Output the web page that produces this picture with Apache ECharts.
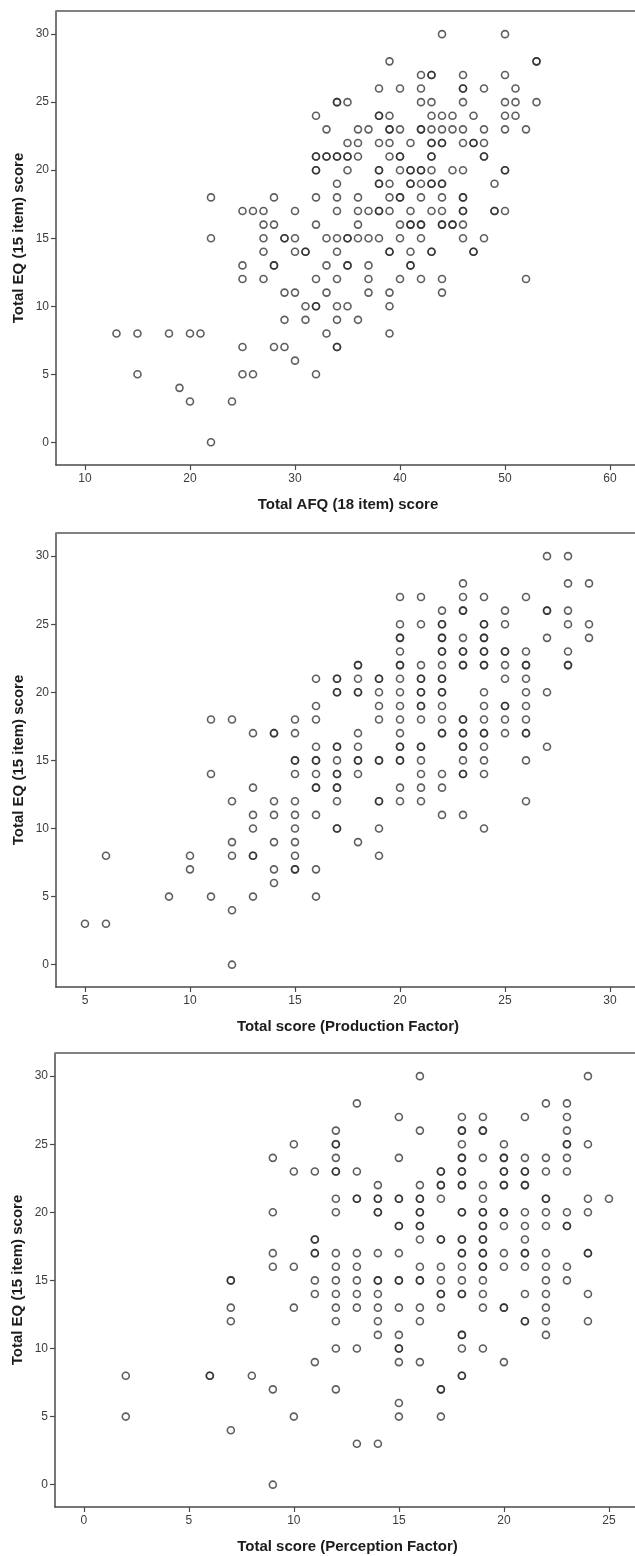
<!DOCTYPE html>
<html><head><meta charset="utf-8">
<style>html,body{margin:0;padding:0;background:#fff}#c{width:635px;height:1556px;filter:blur(0.35px)}</style>
<script src="https://cdn.jsdelivr.net/npm/echarts@6/dist/echarts.min.js"></script>
</head><body><div id="c"></div>
<script>
// Each row: [Total EQ score, [x values at that score]]; a repeated x marks overlapping cases.
const afqRows = [
[30,[44,50]],[28,[39,53,53]],[27,[42,43,43,46,50]],[26,[38,40,42,46,46,48,51]],
[25,[34,34,35,42,43,46,50,51,53]],[24,[32,38,38,39,43,44,45,47,50,51]],
[23,[33,36,37,39,39,40,42,42,43,44,45,46,48,50,52]],[22,[35,36,38,39,41,43,43,44,44,46,47,47,48]],
[21,[32,32,33,33,34,34,35,35,36,39,40,40,43,43,48,48]],[20,[32,32,35,38,38,40,41,41,42,42,43,45,46,50,50]],
[19,[34,38,38,39,41,41,42,43,43,44,44,49]],[18,[22,28,32,34,36,39,40,40,42,44,46,46]],
[17,[25,26,27,30,34,36,37,38,38,39,41,43,44,46,46,49,49,50]],[16,[27,28,32,36,40,41,41,42,42,44,44,45,45,46]],
[15,[22,27,29,29,30,33,34,35,35,36,37,38,40,42,46,48]],[14,[27,30,31,31,34,39,39,41,43,43,47,47]],
[13,[25,28,28,33,35,35,37,41,41]],[12,[25,27,32,34,37,40,42,44,52]],[11,[29,30,33,37,39,44]],
[10,[31,32,32,34,35,39]],[9,[29,31,34,36]],[8,[13,15,18,20,21,33,39]],[7,[25,28,29,34,34]],
[6,[30]],[5,[15,25,26,32]],[4,[19]],[3,[20,24]],[0,[22]]
];
const productionRows = [
[30,[27,28]],[28,[23,28,29]],[27,[20,21,23,24,26]],[26,[22,23,23,25,27,27,28]],
[25,[20,21,22,22,24,24,25,28,29]],[24,[20,20,22,22,23,24,24,27,29]],
[23,[20,22,22,23,23,24,24,25,25,26,28]],[22,[18,18,20,20,21,22,23,23,24,24,25,26,26,28,28]],
[21,[16,17,17,18,19,19,20,21,21,22,22,25,26]],[20,[17,17,18,18,19,20,21,21,22,22,24,26,27]],
[19,[16,19,20,21,21,22,24,25,25,26]],[18,[11,12,15,16,19,20,21,22,23,23,24,25,26]],
[17,[13,14,14,15,18,20,22,22,23,23,24,24,25,26,26]],[16,[16,17,17,18,20,20,21,21,23,23,24,27]],
[15,[15,15,16,16,17,18,18,19,19,20,20,21,23,24,26]],[14,[11,15,16,17,17,18,21,22,23,23,24]],
[13,[13,16,16,17,17,20,21,22]],[12,[12,14,15,17,19,19,20,21,26]],[11,[13,14,15,16,22,23]],
[10,[13,15,17,17,19,24]],[9,[12,14,15,18]],[8,[6,10,12,13,13,15,19]],[7,[10,14,15,15,16]],
[6,[14]],[5,[9,11,13,16]],[4,[12]],[3,[5,6]],[0,[12]]
];
const perceptionRows = [
[30,[16,24]],[28,[13,22,23]],[27,[15,18,19,21,23]],[26,[12,16,18,18,19,19,23]],
[25,[10,12,12,18,20,23,23,24]],[24,[9,12,15,18,18,19,20,20,21,22,23]],
[23,[10,11,12,12,13,17,17,18,18,20,20,21,21,22,23]],[22,[14,16,17,17,18,18,19,20,20,21,21]],
[21,[12,13,13,14,14,15,15,16,16,17,19,22,22,24,25]],[20,[9,12,14,14,16,16,18,18,19,19,20,20,21,22,23,24]],
[19,[15,15,16,16,19,19,20,21,22,23,23]],[18,[11,11,16,17,17,18,18,19,19,21]],
[17,[9,11,11,12,13,14,15,18,18,19,19,20,21,21,22,24,24]],[16,[9,10,12,13,16,17,18,19,19,20,21,22,23]],
[15,[7,7,11,12,13,14,14,15,15,16,16,17,18,19,22,23]],[14,[11,12,13,14,17,17,18,18,19,21,22,24]],
[13,[7,10,12,13,14,15,16,17,19,20,20,22]],[12,[7,12,14,16,21,21,22,24]],[11,[14,15,18,18,22]],
[10,[12,13,15,15,18,19]],[9,[11,15,16,20]],[8,[2,6,6,8,18,18]],[7,[9,12,17,17]],
[6,[15]],[5,[2,10,15,17]],[4,[7]],[3,[13,14]],[0,[9]]
];
const eqTicks = [0,5,10,15,20,25,30];
const afqTicks = [10,20,30,40,50,60];
const productionTicks = [5,10,15,20,25,30];
const perceptionTicks = [0,5,10,15,20,25];
const eqTitle = 'Total EQ (15 item) score';
const xTitles = ['Total AFQ (18 item) score','Total score (Production Factor)','Total score (Perception Factor)'];

const toPoints = rows => rows.flatMap(([y, xs]) => xs.map(x => [x, y]));
const panels = [
  {rows:afqRows, ticks:afqTicks, top:11, h:454, left:56, xMin:7.24, xMax:62.38, yMin:-1.67, yMax:31.7},
  {rows:productionRows, ticks:productionTicks, top:533, h:454, left:56, xMin:3.62, xMax:31.19, yMin:-1.64, yMax:31.7},
  {rows:perceptionRows, ticks:perceptionTicks, top:1053, h:454, left:55, xMin:-1.37, xMax:26.24, yMin:-1.64, yMax:31.7}
];
const axisLine = {show:true, onZero:false, lineStyle:{color:'#4a4a4a', width:1.5}};
const axisTick = {show:true, length:5, lineStyle:{color:'#4a4a4a', width:1.2}};
const labelFont = {color:'#3c3c3c', fontFamily:'Liberation Sans', fontSize:12};
const nameFont = {color:'#1c1c1c', fontFamily:'Liberation Sans', fontWeight:'bold', fontSize:15};

const chart = echarts.init(document.getElementById('c'), null, {renderer:'canvas', width:635, height:1556});
chart.setOption({
  animation:false,
  backgroundColor:'#fff',
  grid: panels.map(p => ({left:p.left, top:p.top, width:635-p.left, height:p.h, containLabel:false, outerBoundsMode:'none'})),
  xAxis: panels.map((p,i) => ({
    gridIndex:i, type:'value', min:p.xMin, max:p.xMax, splitLine:{show:false},
    name:xTitles[i], nameLocation:'middle', nameGap:32, nameMoveOverlap:false, nameTextStyle:{...nameFont, padding:[0,0,0,5]},
    axisLine, axisTick:{...axisTick, customValues:p.ticks},
    axisLabel:{...labelFont, customValues:p.ticks, margin:8, formatter:v=>String(v)}
  })),
  yAxis: panels.map((p,i) => ({
    gridIndex:i, type:'value', min:p.yMin, max:p.yMax, splitLine:{show:false},
    name:eqTitle, nameLocation:'middle', nameGap:30, nameMoveOverlap:false, nameTextStyle:nameFont,
    axisLine, axisTick:{...axisTick, customValues:eqTicks},
    axisLabel:{...labelFont, customValues:eqTicks, margin:7, formatter:v=>String(v)}
  })),
  series: panels.map((p,i) => ({
    type:'scatter', xAxisIndex:i, yAxisIndex:i, data:toPoints(p.rows),
    symbol:'circle', symbolSize:7, silent:true,
    itemStyle:{color:'rgba(0,0,0,0)', borderColor:'rgba(40,40,40,0.75)', borderWidth:1.6, opacity:1}
  })).concat(panels.map((p,i) => ({
    // top frame line of each panel, drawn through the panel's own axes
    type:'line', xAxisIndex:i, yAxisIndex:i, silent:true, symbol:'none',
    data:[[p.xMin,p.yMax],[p.xMax,p.yMax]],
    lineStyle:{color:'#808080', width:2}
  })))
});
</script></body></html>
